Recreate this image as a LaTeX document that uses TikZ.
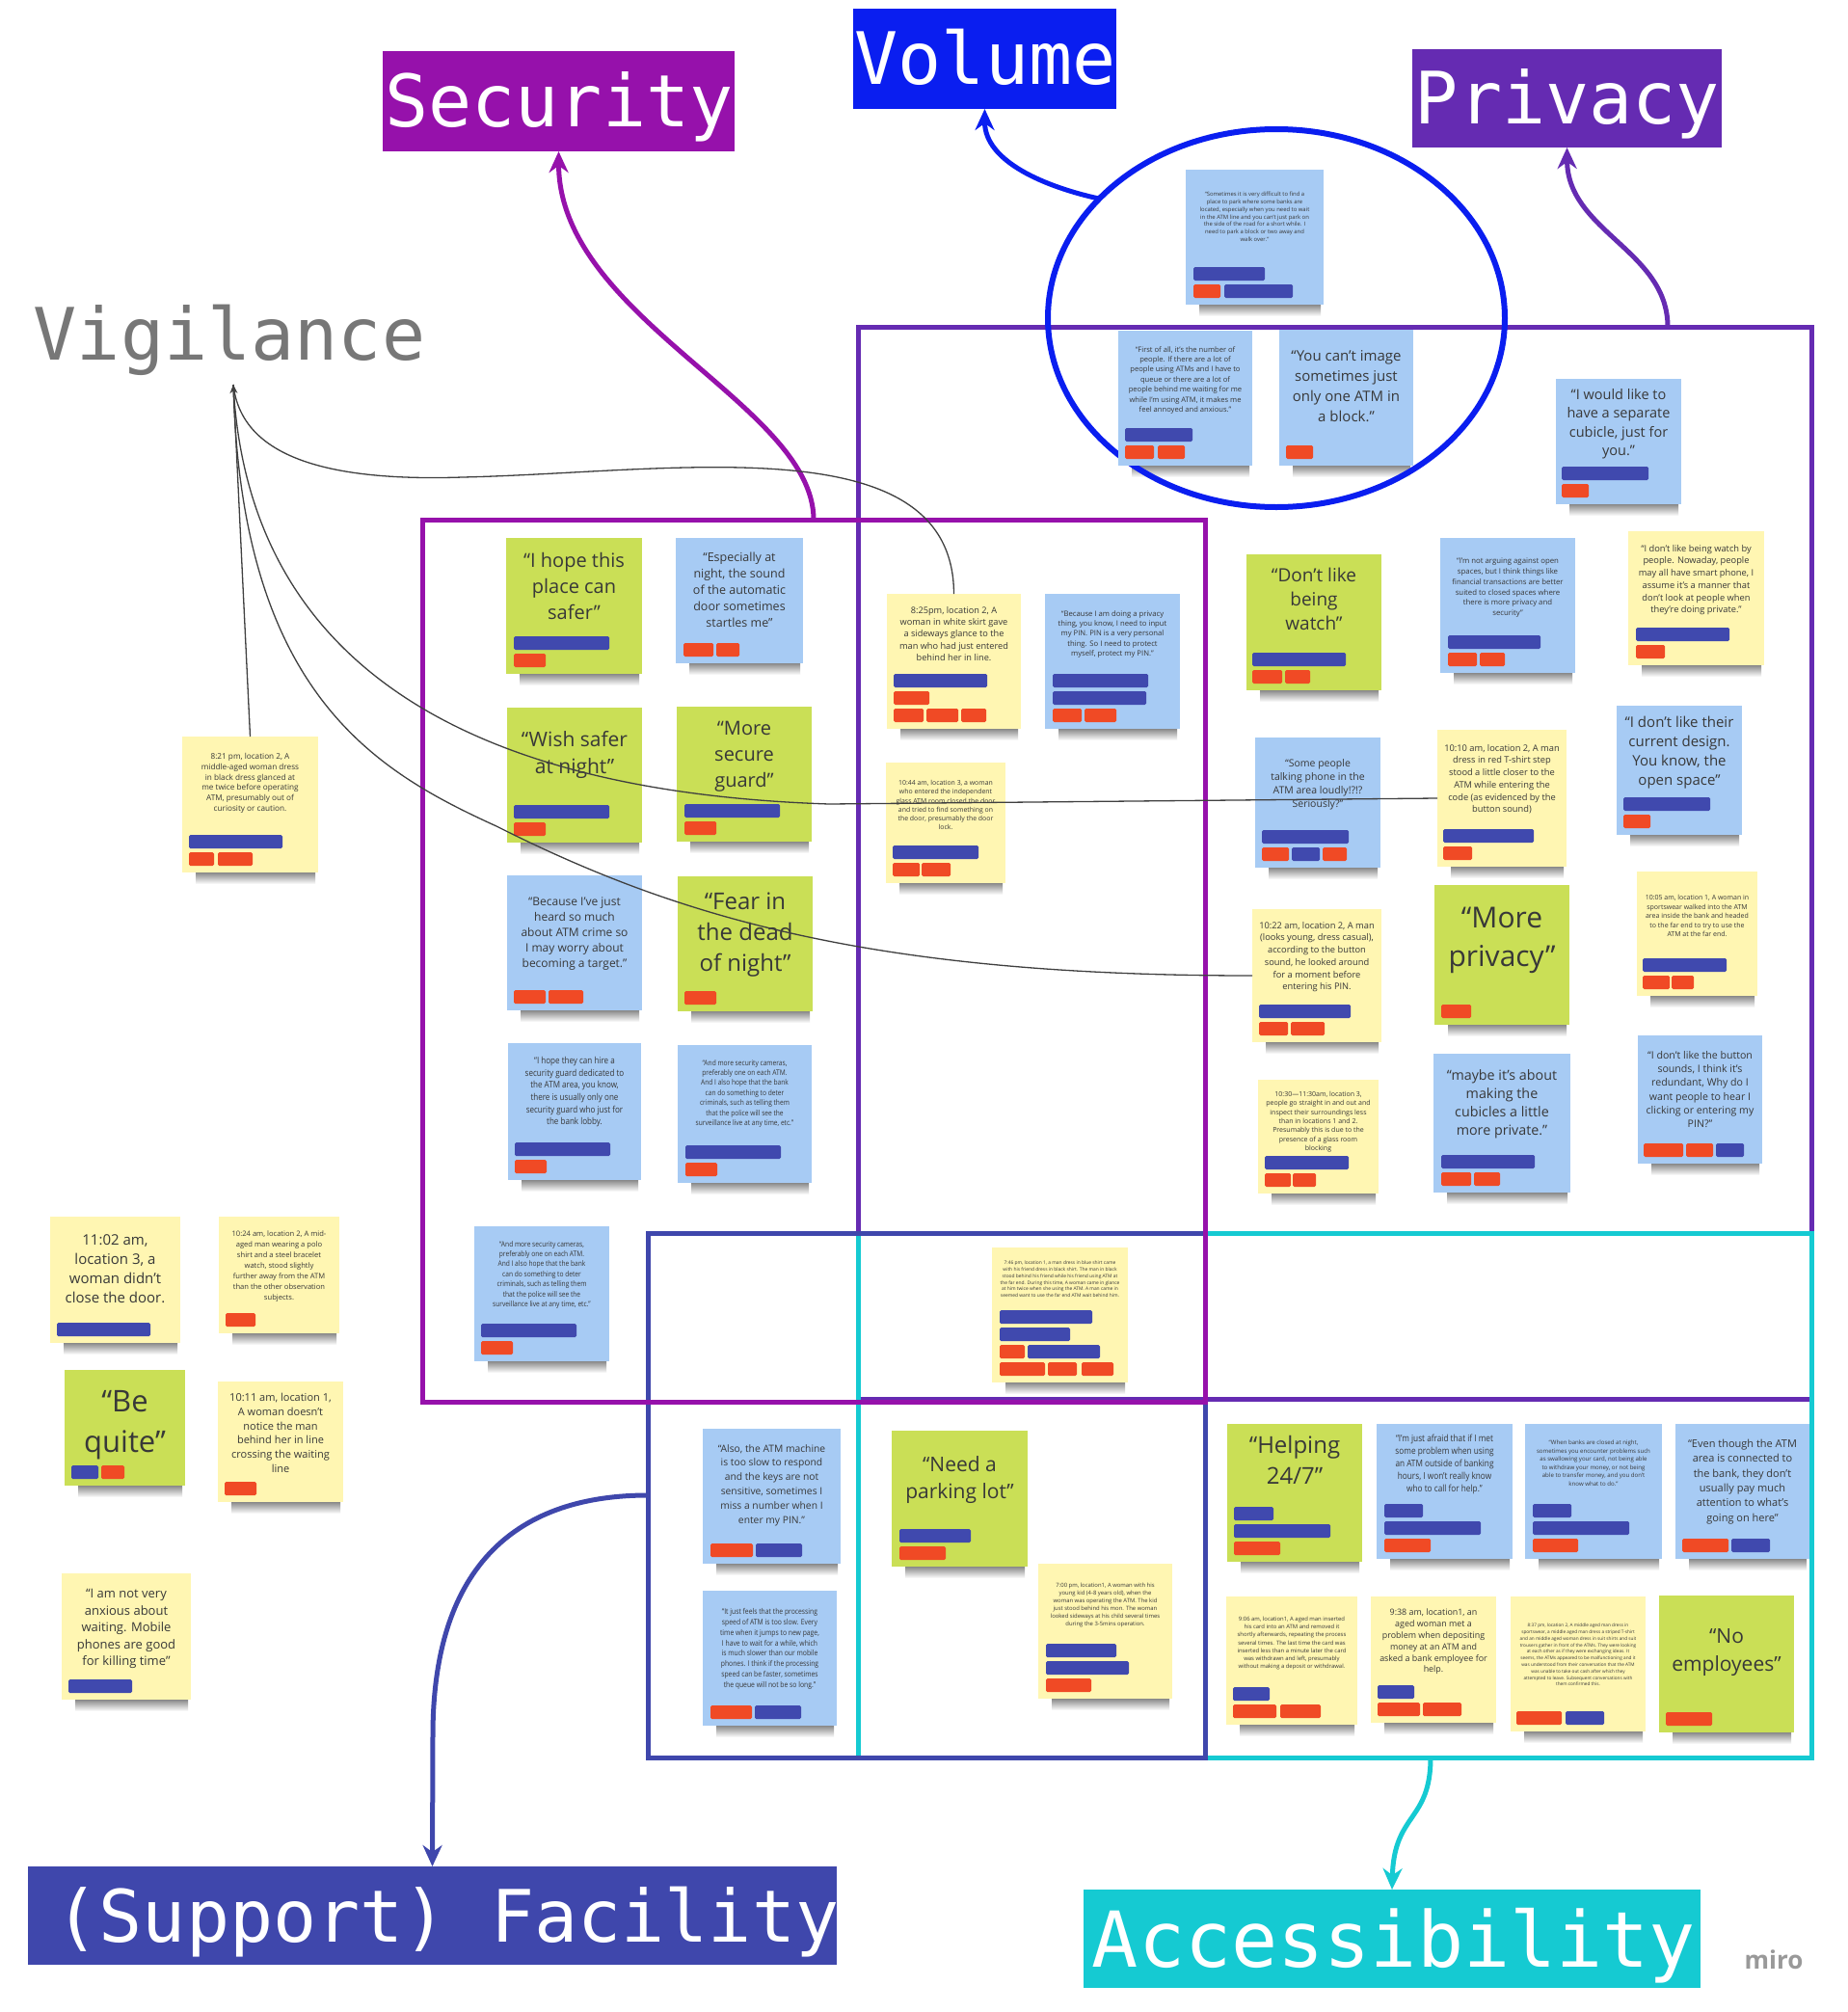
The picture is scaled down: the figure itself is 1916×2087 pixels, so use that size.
\documentclass[tikz,border=0pt]{standalone}
\usepackage{fontspec}
\setmainfont{Open Sans}
\newfontfamily\os{Open Sans}
\newfontfamily\osc[FakeStretch=0.85]{Open Sans}
\newfontfamily\mono{DejaVu Sans Mono}
\usetikzlibrary{arrows.meta,shapes.geometric}
\definecolor{nyel}{HTML}{FFF6B2}
\definecolor{nblu}{HTML}{A7CBF4}
\definecolor{ngrn}{HTML}{CADF56}
\definecolor{barB}{HTML}{4049AE}
\definecolor{barR}{HTML}{F04A25}
\definecolor{secC}{HTML}{9611AB}
\definecolor{volC}{HTML}{0A1EF0}
\definecolor{privC}{HTML}{652BB2}
\definecolor{facC}{HTML}{3F47AC}
\definecolor{accC}{HTML}{15CAD2}
\definecolor{vigC}{HTML}{777777}
\newcommand\fs[2]{\fontsize{#1}{#2}\selectfont}
\newif\ifshadowpass
\newcommand\stick[9]{\ifshadowpass
 \fill[shade, top color=black!50, bottom color=white] (#2+14,#3+#5-1) rectangle (#2+#4-3,#3+#5+12);
 \else
 \node[sticky, fill=#6, minimum width=#4, minimum height=#5] (#1) at (#2,#3) {};
 \node[ntext, font=#8, anchor=north] (#1t) at ([yshift=-#7]#1.north) {#9};
 \fi}
\newcommand\tg[5]{\ifshadowpass\else\fill[#5, rounded corners=1.5pt] ([shift={(#3,-7-#2*18)}]#1.south west) rectangle ++(#4,-14);\fi}
\newcommand\allnotes{%
% ---------- Volume
\stick{V1}{1230}{176}{143}{140}{nblu}{23}{\os\fs{5.9}{7.8}}{“Sometimes it is very difficult to find a\\place to park where some banks are\\located, especially when you need to wait\\in the ATM line and you can’t just park on\\the side of the road for a short while. I\\need to park a block or two away and\\walk over.”}
\tg{V1}{1}{8}{74}{barB}\tg{V1}{0}{8}{28}{barR}\tg{V1}{0}{40}{71}{barB}
\stick{V2}{1160}{343}{139}{140}{nblu}{16}{\os\fs{7.6}{10.4}}{“First of all, it’s the number of\\people. If there are a lot of\\people using ATMs and I have to\\queue or there are a lot of\\people behind me waiting for me\\while I’m using ATM, it makes me\\feel annoyed and anxious.”}
\tg{V2}{1}{7}{70}{barB}\tg{V2}{0}{7}{30}{barR}\tg{V2}{0}{41}{28}{barR}
\stick{V3}{1327}{342}{139}{141}{nblu}{21}{\os\fs{15}{21}}{“You can’t image\\sometimes just\\only one ATM in\\a block.”}
\tg{V3}{0}{7}{28}{barR}
% ---------- Privacy
\stick{P1}{1614}{393}{130}{130}{nblu}{10}{\os\fs{14.5}{19.5}}{“I would like to\\have a separate\\cubicle, just for\\you.”}
\tg{P1}{1}{6}{90}{barB}\tg{P1}{0}{6}{28}{barR}
\stick{P2}{1494}{558}{140}{140}{nblu}{21}{\os\fs{7.8}{10.7}}{“I’m not arguing against open\\spaces, but I think things like\\financial transactions are better\\suited to closed spaces where\\there is more privacy and\\security”}
\tg{P2}{1}{8}{96}{barB}\tg{P2}{0}{8}{30}{barR}\tg{P2}{0}{41}{26}{barR}
\stick{P3}{1689}{551}{141}{139}{nyel}{14}{\os\fs{9.3}{12.7}}{“I don’t like being watch by\\people. Nowaday, people\\may all have smart phone, I\\assume it’s a manner that\\don’t look at people when\\they’re doing private.”}
\tg{P3}{1}{8}{97}{barB}\tg{P3}{0}{8}{30}{barR}
\stick{P4}{1293}{575}{140}{141}{ngrn}{14}{\os\fs{19}{25}}{“Don’t like\\being\\watch”}
\tg{P4}{1}{6}{97}{barB}\tg{P4}{0}{6}{31}{barR}\tg{P4}{0}{40}{26}{barR}
\stick{P5}{1302}{765}{130}{135}{nblu}{22}{\os\fs{10.5}{14}}{“Some people\\talking phone in the\\ATM area loudly!?!?\\Seriously?”}
\tg{P5}{1}{7}{90}{barB}\tg{P5}{0}{7}{28}{barR}\tg{P5}{0}{38}{29}{barB}\tg{P5}{0}{70}{25}{barR}
\stick{P6}{1491}{757}{134}{142}{nyel}{15}{\os\fs{9.3}{12.7}}{10:10 am, location 2, A man\\dress in red T-shirt step\\stood a little closer to the\\ATM while entering the\\code (as evidenced by the\\button sound)}
\tg{P6}{1}{6}{94}{barB}\tg{P6}{0}{6}{30}{barR}
\stick{P7}{1677}{732}{130}{134}{nblu}{11}{\os\fs{15}{20}}{“I don’t like their\\current design.\\You know, the\\open space”}
\tg{P7}{1}{7}{90}{barB}\tg{P7}{0}{7}{28}{barR}
\stick{P8}{1299}{943}{134}{138}{nyel}{13}{\os\fs{9.3}{12.7}}{10:22 am, location 2, A man\\(looks young, dress casual),\\according to the button\\sound, he looked around\\for a moment before\\entering his PIN.}
\tg{P8}{1}{7}{95}{barB}\tg{P8}{0}{7}{30}{barR}\tg{P8}{0}{40}{35}{barR}
\stick{P9}{1488}{918}{140}{145}{ngrn}{23}{\os\fs{30}{40}}{“More\\privacy”}
\tg{P9}{0}{7}{31}{barR}
\stick{P10}{1698}{904}{125}{129}{nyel}{24}{\os\fs{7}{9.5}}{10:05 am, location 1, A woman in\\sportswear walked into the ATM\\area inside the bank and headed\\to the far end to try to use the\\ATM at the far end.}
\tg{P10}{1}{6}{87}{barB}\tg{P10}{0}{6}{28}{barR}\tg{P10}{0}{36}{23}{barR}
\stick{P11}{1305}{1120}{125}{118}{nyel}{12}{\os\fs{7}{9.3}}{10:30—11:30am, location 3,\\people go straight in and out and\\inspect their surroundings less\\than in locations 1 and 2.\\Presumably this is due to the\\presence of a glass room\\blocking}
\tg{P11}{1}{7}{87}{barB}\tg{P11}{0}{7}{27}{barR}\tg{P11}{0}{36}{24}{barR}
\stick{P12}{1487}{1093}{142}{144}{nblu}{16}{\os\fs{14.3}{19}}{“maybe it’s about\\making the\\cubicles a little\\more private.”}
\tg{P12}{1}{8}{97}{barB}\tg{P12}{0}{8}{31}{barR}\tg{P12}{0}{42}{27}{barR}
\stick{P13}{1699}{1074}{129}{133}{nblu}{16}{\os\fs{10.6}{14.3}}{“I don’t like the button\\sounds, I think it’s\\redundant, Why do I\\want people to hear I\\clicking or entering my\\PIN?”}
\tg{P13}{0}{6}{41}{barR}\tg{P13}{0}{50}{28}{barR}\tg{P13}{0}{81}{29}{barB}
% ---------- Security
\stick{S1}{525}{558}{141}{141}{ngrn}{15}{\os\fs{20}{27}}{“I hope this\\place can\\safer”}
\tg{S1}{1}{8}{99}{barB}\tg{S1}{0}{8}{33}{barR}
\stick{S2}{701}{558}{132}{130}{nblu}{15}{\os\fs{12.5}{17}}{“Especially at\\night, the sound\\of the automatic\\door sometimes\\startles me”}
\tg{S2}{0}{8}{31}{barR}\tg{S2}{0}{42}{24}{barR}
\stick{S3}{526}{734}{140}{140}{ngrn}{24}{\os\fs{21}{28}}{“Wish safer\\at night”}
\tg{S3}{1}{7}{99}{barB}\tg{S3}{0}{7}{33}{barR}
\stick{S4}{702}{733}{140}{140}{ngrn}{15}{\os\fs{20}{27}}{“More\\secure\\guard”}
\tg{S4}{1}{8}{99}{barB}\tg{S4}{0}{8}{33}{barR}
\stick{S5}{526}{908}{140}{140}{nblu}{22}{\os\fs{12}{16}}{“Because I’ve just\\heard so much\\about ATM crime so\\I may worry about\\becoming a target.”}
\tg{S5}{0}{7}{33}{barR}\tg{S5}{0}{43}{36}{barR}
\stick{S6}{703}{909}{140}{140}{ngrn}{17}{\os\fs{24}{32}}{“Fear in\\the dead\\of night”}
\tg{S6}{0}{7}{33}{barR}
\stick{S7}{527}{1082}{138}{142}{nblu}{14}{\osc\fs{9.5}{12.7}}{“I hope they can hire a\\security guard dedicated to\\the ATM area, you know,\\there is usually only one\\security guard who just for\\the bank lobby.}
\tg{S7}{1}{7}{99}{barB}\tg{S7}{0}{7}{33}{barR}
\stick{S8}{703}{1084}{139}{143}{nblu}{15}{\osc\fs{7.8}{10.4}}{“And more security cameras,\\preferably one on each ATM.\\And I also hope that the bank\\can do something to deter\\criminals, such as telling them\\that the police will see the\\surveillance live at any time, etc.”}
\tg{S8}{1}{8}{99}{barB}\tg{S8}{0}{8}{33}{barR}
\stick{S9}{492}{1272}{140}{140}{nblu}{15}{\osc\fs{7.8}{10.4}}{“And more security cameras,\\preferably one on each ATM.\\And I also hope that the bank\\can do something to deter\\criminals, such as telling them\\that the police will see the\\surveillance live at any time, etc.”}
\tg{S9}{1}{7}{99}{barB}\tg{S9}{0}{7}{33}{barR}
% ---------- Centre
\stick{C1}{1029}{1294}{141}{140}{nyel}{14}{\os\fs{4.9}{6.7}}{7:46 pm, location 1, a man dress in blue shirt came\\with his friend dress in black shirt. The man in black\\stood behind his friend while his friend using ATM at\\the far end. During this time, A woman came in glance\\at him twice when she using the ATM. A man came in\\seemed want to use the far end ATM wait behind him.}
\tg{C1}{3}{8}{96}{barB}\tg{C1}{2}{8}{73}{barB}\tg{C1}{1}{8}{26}{barR}\tg{C1}{1}{37}{75}{barB}
\tg{C1}{0}{8}{47}{barR}\tg{C1}{0}{58}{30}{barR}\tg{C1}{0}{93}{33}{barR}
% ---------- Middle column
\stick{M1}{920}{616}{139}{140}{nyel}{13}{\os\fs{9.2}{12.3}}{8:25pm, location 2, A\\woman in white skirt gave\\a sideways glance to the\\man who had just entered\\behind her in line.}
\tg{M1}{2}{7}{97}{barB}\tg{M1}{1}{7}{37}{barR}\tg{M1}{0}{7}{31}{barR}\tg{M1}{0}{41}{33}{barR}\tg{M1}{0}{77}{26}{barR}
\stick{M2}{1084}{616}{140}{140}{nblu}{17}{\os\fs{7.7}{10.4}}{“Because I am doing a privacy\\thing, you know, I need to input\\my PIN. PIN is a very personal\\thing. So I need to protect\\myself, protect my PIN.”}
\tg{M2}{2}{8}{99}{barB}\tg{M2}{1}{8}{97}{barB}\tg{M2}{0}{8}{30}{barR}\tg{M2}{0}{41}{33}{barR}
\stick{M3}{919}{791}{124}{125}{nyel}{18}{\os\fs{6.9}{9.3}}{10:44 am, location 3, a woman\\who entered the independent\\glass ATM room closed the door\\and tried to find something on\\the door, presumably the door\\lock.}
\tg{M3}{1}{7}{89}{barB}\tg{M3}{0}{7}{28}{barR}\tg{M3}{0}{37}{30}{barR}
% ---------- Left
\stick{L1}{189}{764}{141}{141}{nyel}{17}{\os\fs{8.2}{10.8}}{8:21 pm, location 2, A\\middle-aged woman dress\\in black dress glanced at\\me twice before operating\\ATM, presumably out of\\curiosity or caution.}
\tg{L1}{1}{7}{97}{barB}\tg{L1}{0}{7}{26}{barR}\tg{L1}{0}{37}{36}{barR}
\stick{L2}{52}{1262}{135}{131}{nyel}{18}{\os\fs{15}{20}}{11:02 am,\\location 3, a\\woman didn’t\\close the door.}
\tg{L2}{0}{7}{97}{barB}
\stick{L3}{227}{1262}{125}{121}{nyel}{15}{\os\fs{7.6}{11}}{10:24 am, location 2, A mid-\\aged man wearing a polo\\shirt and a steel bracelet\\watch, stood slightly\\further away from the ATM\\than the other observation\\subjects.}
\tg{L3}{0}{7}{31}{barR}
\stick{L4}{67}{1421}{125}{120}{ngrn}{21}{\os\fs{31}{42}}{“Be\\quite”}
\tg{L4}{0}{7}{28}{barB}\tg{L4}{0}{38}{24}{barR}
\stick{L5}{226}{1433}{130}{125}{nyel}{12}{\os\fs{11}{14.8}}{10:11 am, location 1,\\A woman doesn’t\\notice the man\\behind her in line\\crossing the waiting\\line}
\tg{L5}{0}{7}{33}{barR}
\stick{L6}{64}{1632}{134}{131}{nyel}{16}{\os\fs{13}{17.6}}{“I am not very\\anxious about\\waiting. Mobile\\phones are good\\for killing time”}
\tg{L6}{0}{7}{66}{barB}
% ---------- Facility
\stick{F1}{729}{1482}{143}{140}{nblu}{16}{\os\fs{10.3}{14.8}}{“Also, the ATM machine\\is too slow to respond\\and the keys are not\\sensitive, sometimes I\\miss a number when I\\enter my PIN.”}
\tg{F1}{0}{8}{44}{barR}\tg{F1}{0}{55}{48}{barB}
\stick{F2}{729}{1650}{139}{140}{nblu}{18}{\osc\fs{8}{10.9}}{“It just feels that the processing\\speed of ATM is too slow. Every\\time when it jumps to new page,\\I have to wait for a while, which\\is much slower than our mobile\\phones. I think if the processing\\speed can be faster, sometimes\\the queue will not be so long.”}
\tg{F2}{0}{8}{43}{barR}\tg{F2}{0}{54}{48}{barB}
\stick{F3}{925}{1484}{141}{141}{ngrn}{26}{\os\fs{21}{28}}{“Need a\\parking lot”}
\tg{F3}{1}{8}{74}{barB}\tg{F3}{0}{8}{48}{barR}
\stick{F4}{1077}{1622}{139}{140}{nyel}{20}{\os\fs{5.9}{8}}{7:00 pm, location1, A woman with his\\young kid (4-8 years old), when the\\woman was operating the ATM. The kid\\just stood behind his mon. The woman\\looked sideways at his child several times\\during the 3-5mins operation.}
\tg{F4}{2}{8}{73}{barB}\tg{F4}{1}{8}{86}{barB}\tg{F4}{0}{8}{47}{barR}
% ---------- Accessibility
\stick{A1}{1273}{1477}{140}{143}{ngrn}{12}{\os\fs{24}{32}}{“Helping\\24/7”}
\tg{A1}{2}{7}{41}{barB}\tg{A1}{1}{7}{100}{barB}\tg{A1}{0}{7}{48}{barR}
\stick{A2}{1428}{1477}{141}{140}{nblu}{11}{\osc\fs{9.7}{12.9}}{“I’m just afraid that if I met\\some problem when using\\an ATM outside of banking\\hours, I won’t really know\\who to call for help.”}
\tg{A2}{2}{8}{40}{barB}\tg{A2}{1}{8}{100}{barB}\tg{A2}{0}{8}{48}{barR}
\stick{A3}{1582}{1477}{142}{140}{nblu}{17}{\os\fs{6.1}{8.5}}{“When banks are closed at night,\\sometimes you encounter problems such\\as swallowing your card, not being able\\to withdraw your money, or not being\\able to transfer money, and you don’t\\know what to do.”}
\tg{A3}{2}{8}{40}{barB}\tg{A3}{1}{8}{100}{barB}\tg{A3}{0}{8}{47}{barR}
\stick{A4}{1738}{1477}{139}{140}{nblu}{16}{\os\fs{11}{15.3}}{“Even though the ATM\\area is connected to\\the bank, they don’t\\usually pay much\\attention to what’s\\going on here”}
\tg{A4}{0}{7}{48}{barR}\tg{A4}{0}{58}{40}{barB}
\stick{A5}{1272}{1656}{136}{133}{nyel}{21}{\os\fs{5.9}{8.1}}{9:06 am, location1, A aged man inserted\\his card into an ATM and removed it\\shortly afterwards, repeating the process\\several times. The last time the card was\\inserted less than a minute later the card\\was withdrawn and left, presumably\\without making a deposit or withdrawal.}
\tg{A5}{1}{7}{38}{barB}\tg{A5}{0}{7}{45}{barR}\tg{A5}{0}{56}{42}{barR}
\stick{A6}{1422}{1656}{130}{131}{nyel}{13}{\os\fs{8.9}{11.8}}{9:38 am, location1, an\\aged woman met a\\problem when depositing\\money at an ATM and\\asked a bank employee for\\help.}
\tg{A6}{1}{7}{38}{barB}\tg{A6}{0}{7}{44}{barR}\tg{A6}{0}{54}{40}{barR}
\stick{A7}{1567}{1656}{140}{140}{nyel}{28}{\os\fs{4.7}{6.8}}{8:37 pm, location 2, A middle aged man dress in\\sportswear, a middle aged man dress a striped T-shirt\\and an middle aged woman dress in suit shirts and suit\\trousers gather in front of the ATMs. They were looking\\at each other as if they were exchanging ideas. It\\seems, the ATMs appeared to be malfunctioning and it\\was understood from their conversation that the ATM\\was unable to take out cash after which they\\attempted to leave. Subsequent conversations with\\them confirmed this.}
\tg{A7}{0}{6}{47}{barR}\tg{A7}{0}{57}{40}{barB}
\stick{A8}{1721}{1655}{140}{142}{ngrn}{34}{\os\fs{21}{29}}{“No\\employees”}
\tg{A8}{0}{7}{48}{barR}
}
\begin{document}
\begin{tikzpicture}[x=1pt,y=-1pt,
  sticky/.style={rectangle, inner sep=0pt, outer sep=0pt, anchor=north west, draw=none},
  ntext/.style={inner sep=0pt, align=center, text=black!78},
  zone/.style={rectangle, inner sep=0pt, outer sep=0pt, line width=5pt, anchor=north west},
  tbox/.style={rectangle, inner sep=0pt, outer sep=0pt},
  ttext/.style={inner sep=0pt, anchor=base, text=white, font=\mono\fs{75}{80}},
  arr/.style={line width=5pt, -{Stealth[length=22pt,width=20pt]}},
  vline/.style={draw=black!75, line width=1.3pt}]
\fill[white] (0,0) rectangle (1916,2087);
\useasboundingbox (0,0) rectangle (1916,2087);
% shadows
\shadowpasstrue
\allnotes
% frames
\node[zone, draw=privC, minimum width=989, minimum height=1112] (privF) at (890,339) {};
\node[zone, draw=accC, minimum width=989, minimum height=544] (accF) at (890,1279) {};
\node[zone, draw=facC, minimum width=578, minimum height=544] (facF) at (672,1279) {};
\node[zone, draw=secC, minimum width=812, minimum height=915] (secF) at (438,539) {};
\node[draw=volC, line width=6pt, ellipse, inner sep=0pt, outer sep=0pt, minimum width=474, minimum height=392] (vol) at (1324,330) {};
% titles
\node[tbox, fill=secC, minimum width=365, minimum height=104] (secT) at (579.5,105) {};
\node[ttext] (secTx) at (580,132) {Security};
\node[tbox, fill=volC, minimum width=273, minimum height=104] (volT) at (1021.5,61) {};
\node[ttext] (volTx) at (1022,88) {Volume};
\node[tbox, fill=privC, minimum width=321, minimum height=102] (privT) at (1625.5,102) {};
\node[ttext] (privTx) at (1626,129) {Privacy};
\node[tbox, fill=facC, minimum width=839, minimum height=102] (facT) at (448.5,1987) {};
\node[ttext] (facTx) at (464,2014) {(Support) Facility};
\node[tbox, fill=accC, minimum width=640, minimum height=102] (accT) at (1444,2011) {};
\node[ttext, font=\mono\fs{80}{84}] (accTx) at (1446,2040) {Accessibility};
\node[inner sep=0pt, anchor=base, text=vigC, font=\mono\fs{75}{80}] (vigT) at (238,373) {Vigilance};
\node[inner sep=0pt, anchor=base, text=black!40, font=\os\bfseries\fs{26}{30}] (miro) at (1840,2042) {miro};
% arrows
\coordinate (privA) at (1730,339);
\coordinate (accA) at (1484,1823);
\draw[arr, draw=secC] (secF.north) .. controls (844,420) and (580,330) .. (secT.south);
\draw[arr, draw=volC] (vol.146) .. controls +(-55,-12) and +(0,55) .. (volT.south);
\draw[arr, draw=privC] (privA) .. controls (1730,260) and (1626,240) .. (privT.south);
\draw[arr, draw=facC] (facF.west) .. controls (540,1551) and (449,1620) .. (449,1800) -- (facT.north);
\draw[arr, draw=accC] (accA) .. controls (1484,1890) and (1446,1880) .. (accT.north);
% notes
\shadowpassfalse
\allnotes
% vigilance links
\coordinate (vig) at (242,399);
\draw[vline, {Stealth[length=9pt,width=8pt]}-] (vig) -- (L1.north);
\draw[vline] (vig) .. controls (250,470) and (330,500) .. (480,495) .. controls (700,490) and (989,440) .. (M1.north);
\draw[vline] (vig) .. controls (255,650) and (430,820) .. (860,834) -- (P6.west);
\draw[vline] (vig) .. controls (250,720) and (390,800) .. (515,857) .. controls (700,950) and (900,1012) .. (P8.west);
\end{tikzpicture}
\end{document}
